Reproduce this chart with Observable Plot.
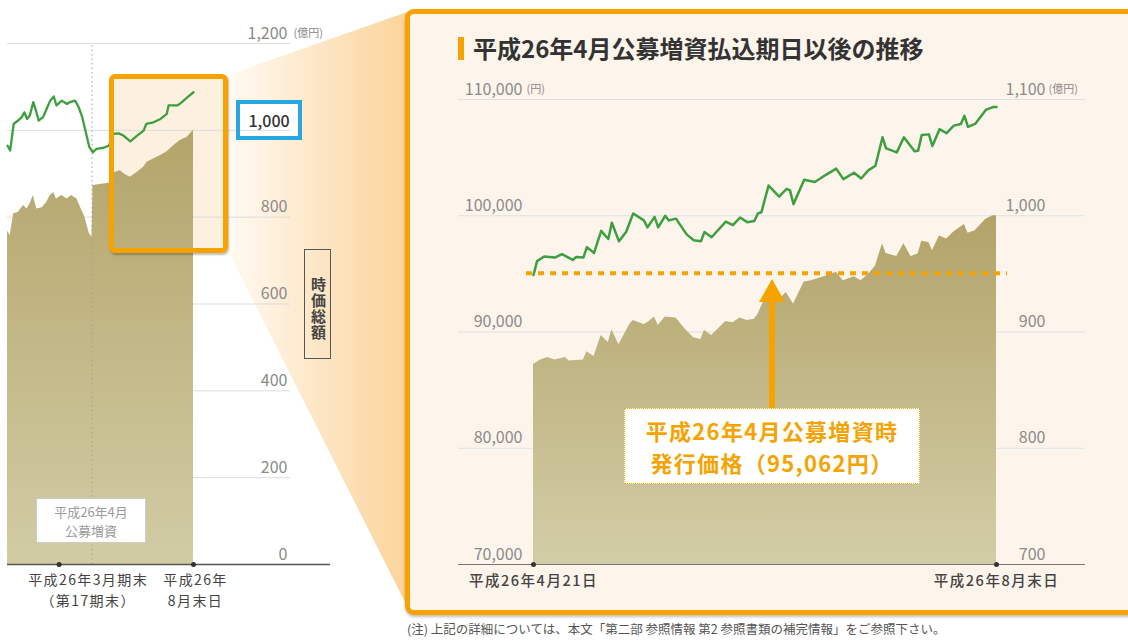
<!DOCTYPE html>
<html><head><meta charset="utf-8">
<script src="https://cdn.jsdelivr.net/npm/d3@7"></script>
<script src="https://cdn.jsdelivr.net/npm/@observablehq/plot@0.6"></script>
<style>
body{margin:0;width:1128px;height:641px;background:#fff;position:relative;overflow:hidden;font-family:"Noto Sans CJK JP","Noto Sans",sans-serif;}
.abs{position:absolute;}
</style></head><body>
<script>
// ---------- DATA ----------
// Right panel (from 平成26年4月21日 = 2014-04-21), day offsets
const rightPriceDays = [0,1,3,6,8,11,12,14,15,17,19,21,22,24,26,28,31,32,34,35,37,38,40,43,45,47,48,50,54,56,58,60,62,63,64,66,69,71,72,73,76,79,82,85,87,90,92,94,96,98,99,102,104,107,108,109,111,112,114,116,118,120,121,122,124,127,129,130];
const rightPrice = [94900,96100,96500,96400,96700,96200,96450,96400,97300,96800,98700,98000,99400,97800,98600,100200,99600,99000,99900,99000,100000,99600,99750,98400,97900,97800,98600,98150,99500,99200,99850,99450,99550,100200,100300,102600,101650,102300,102200,101000,103100,102900,103500,104050,103150,103700,103200,103900,104300,106750,105800,105450,106750,105550,105600,106950,107000,106000,107450,107100,107750,107900,108600,107650,107900,109100,109350,109350];
const rightCapDays = [0,2,4,6,9,10,14,15,17,19,21,22,24,27,28,31,32,34,35,37,40,43,45,47,48,50,54,56,58,60,62,63,64,66,69,71,73,76,78,82,85,87,90,92,94,96,98,99,102,104,106,108,109,111,112,114,116,118,121,122,124,127,129,130];
const rightCap = [872,876,878,876,878,875,876,883,879,897,891,902,889,906.5,910,906.5,908,913,905.5,913,912,901,895,893.5,901.5,897,909,908,912,910,911,915,922,935,928,934,924,943,944,948,951.5,944,947.5,944,949.5,956.5,976,967.5,965,976,965,967,978,977,970,982.5,980,986,992.5,985,987,997,1000,1000];
const issuePrice = 95062;
const rightPriceTicks = [70000,80000,90000,100000,110000];
const rightCapTicks = [700,800,900,1000,1100];
const rightXLabels = ["平成26年4月21日","平成26年8月末日"];

// Left panel (from 平成26年3月期末 = 2014-03-31), day offsets
const leftCapDays = [-58,-55,-51,-46,-40,-36,-32,-29,-25,-19,-14,-10,-6,-3,3,9,14,20,24,29,34,37,38,46,56,63,69,74,80,88,95,99,106,114,121,129,136,144,151];
const leftCap = [768,758,808,811,827,819,834,850,819,821.5,834,850,857,842,850,842,850,842,823,800,762,754,873,875,878,903.5,907,898,892,903.5,915,926.5,934,942,950,965,976.5,984,1000];
const leftPriceDays = [-58,-55,-51,-46,-42,-39,-36,-33,-29,-26,-23,-18,-14,-10,-6,-3,3,9,12,18,22,26,30,34,38,42,50,56,61,67,72,80,88,95,98,106,114,121,123,133,138,144,151];
const leftPrice = [91500,89900,98800,99900,101000,102600,100400,101500,106000,103200,99900,101000,103800,106500,107900,104900,106500,105400,106000,106500,104300,101000,96000,91000,89300,90400,90800,91500,95400,95600,94900,92900,94900,96500,98800,99300,100400,102100,104900,104900,106000,107600,109300];
const leftOfferingDay = 37;
const leftTicks = [0,200,400,600,800,1000,1200];
const leftHighlightTick = 1000;
const leftXTickDays = [0,151];
const leftXLabelLine1 = ["平成26年3月期末","平成26年"];
const leftXLabelLine2 = ["（第17期末）","8月末日"];

// ---------- helpers ----------
const FONT = '"Noto Sans CJK JP","Noto Sans",sans-serif';
const GREEN = "#3d9f3f", ORANGE = "#f6a300";
const DAY = 864e5;
const rBase = Date.UTC(2014,3,21), lBase = Date.UTC(2014,2,31);
const rDate = d => new Date(rBase + d*DAY);
const lDate = d => new Date(lBase + d*DAY);
const fmt = d3.format(",");
const CAP_TO_PRICE = 100; // right panel: 1億円 on right axis aligns with 100円 on left axis
// left panel: hidden price axis mapped onto 億円 axis
const leftPriceToCap = p => 988 + (p - 94870) * 0.00691;

const rightPriceRows = rightPriceDays.map((d,i)=>({date:rDate(d), price:rightPrice[i]}));
const rightCapRows = rightCapDays.map((d,i)=>({date:rDate(d), cap:rightCap[i]}));
const leftCapRows = leftCapDays.map((d,i)=>({date:lDate(d), cap:leftCap[i]}));
const leftPriceRows = leftPriceDays.map((d,i)=>({date:lDate(d), price:leftPrice[i]}));

function addGrad(svg, id, top, bottom){
  const defs = document.createElementNS("http://www.w3.org/2000/svg","defs");
  defs.innerHTML = `<linearGradient id="${id}" x1="0" y1="0" x2="0" y2="1"><stop offset="0" stop-color="${top}"/><stop offset="1" stop-color="${bottom}"/></linearGradient>`;
  svg.insertBefore(defs, svg.firstChild);
}
function spacing(svg, labels, ls){ svg.querySelectorAll("text").forEach(t=>{ if(labels.includes(t.textContent)) t.style.letterSpacing=ls; }); }
function place(el, left, top){ el.style.position="absolute"; el.style.left=left+"px"; el.style.top=top+"px"; document.body.appendChild(el); return el; }
function div(left, top, w, h, css, html){ const e=document.createElement("div"); e.style.cssText=`position:absolute;left:${left}px;top:${top}px;width:${w}px;height:${h}px;box-sizing:border-box;`+css; if(html!==undefined) e.innerHTML=html; document.body.appendChild(e); return e; }

// ---------- decorations behind ----------
const wedge = document.createElementNS("http://www.w3.org/2000/svg","svg");
wedge.setAttribute("width",1128); wedge.setAttribute("height",641);
wedge.innerHTML = `<defs><linearGradient id="wg" gradientUnits="userSpaceOnUse" x1="228" y1="0" x2="410" y2="0"><stop offset="0" stop-color="#fffaf3"/><stop offset="0.5" stop-color="#fde6c6"/><stop offset="1" stop-color="#fbd398"/></linearGradient></defs><polygon points="228,75 410,11 410,612 228,251" fill="url(#wg)"/>`;
place(wedge,0,0);
div(109,74,119,179,"background:#fdf0df;border-radius:6px;");
div(405,9,740,606,"background:#fdf5eb;border:5px solid "+ORANGE+";border-radius:9px;box-shadow:0 2px 3px rgba(0,0,0,0.25);");
div(236,100,66,40,"background:#fff;");

// ---------- left chart ----------
const leftPlot = Plot.plot({
  width:340, height:610, marginLeft:7, marginRight:50, marginTop:43, marginBottom:46,
  style:{background:"transparent", fontFamily:FONT, fontSize:"16px"},
  x:{type:"utc", domain:[lDate(leftCapDays[0]), lDate(leftCapDays[leftCapDays.length-1])], range:[7,193], axis:null},
  y:{domain:[0,1200], axis:null},
  marks:[
    Plot.ruleY(leftTicks.filter(t=>t>0), {stroke:"#dcdcdc", strokeWidth:1}),
    Plot.areaY(leftCapRows, {x:"date", y1:0, y2:"cap", fill:"url(#gradL)"}),
    Plot.ruleX([lDate(leftOfferingDay)], {y1:0, y2:1200, stroke:"#a0a0a0", strokeWidth:1, strokeDasharray:"1.5,3"}),
    Plot.lineY(leftPriceRows, {x:"date", y:d=>leftPriceToCap(d.price), stroke:GREEN, strokeWidth:2.3}),
    Plot.ruleY([0], {stroke:"#555", strokeWidth:1.5, insetRight:-40}),
    Plot.dot(leftXTickDays, {x:d=>lDate(d), y:0, r:2.5, fill:"#333", stroke:null}),
    Plot.text(leftTicks.filter(t=>t!==leftHighlightTick), {y:d=>d, frameAnchor:"right", dx:-3, dy:-10, textAnchor:"end", text:d=>fmt(d), fill:"#8a8a8a", fontSize:16}),
    Plot.text(["(億円)"], {y:1200, frameAnchor:"right", dx:3, dy:-10, textAnchor:"start", text:d=>d, fill:"#8a8a8a", fontSize:11}),
    Plot.text([leftXTickDays[0]], {x:d=>lDate(d), y:0, dx:29, dy:16.5, text:()=>leftXLabelLine1[0], fill:"#444", fontSize:14}),
    Plot.text([leftXTickDays[0]], {x:d=>lDate(d), y:0, dx:29, dy:37, text:()=>leftXLabelLine2[0], fill:"#444", fontSize:14}),
    Plot.text([leftXTickDays[1]], {x:d=>lDate(d), y:0, dx:2, dy:16.5, text:()=>leftXLabelLine1[1], fill:"#444", fontSize:14}),
    Plot.text([leftXTickDays[1]], {x:d=>lDate(d), y:0, dx:2, dy:37, text:()=>leftXLabelLine2[1], fill:"#444", fontSize:14})
  ]
});
addGrad(leftPlot, "gradL", "#b3a46a", "#d2cca5");
spacing(leftPlot, [...leftXLabelLine1, ...leftXLabelLine2], "1.4px");
place(leftPlot,0,0);

// ---------- right chart ----------
const rightPlot = Plot.plot({
  width:660, height:530, marginLeft:18, marginRight:15, marginTop:29, marginBottom:36,
  style:{background:"transparent", fontFamily:FONT, fontSize:"16px"},
  x:{type:"utc", domain:[rDate(0), rDate(130)], range:[93,556], axis:null},
  y:{domain:[70000,110000], axis:null},
  marks:[
    Plot.ruleY(rightPriceTicks.filter(t=>t>70000), {stroke:"#dde1e6", strokeWidth:1.2}),
    Plot.areaY(rightCapRows, {x:"date", y1:70000, y2:d=>d.cap*CAP_TO_PRICE, fill:"url(#gradR)"}),
    Plot.ruleY([issuePrice], {x1:rDate(0), x2:rDate(130), insetLeft:-7, insetRight:-11, stroke:ORANGE, strokeWidth:4, strokeDasharray:"6,6"}),
    Plot.lineY(rightPriceRows, {x:"date", y:"price", stroke:GREEN, strokeWidth:2.5}),
    Plot.ruleY([70000], {stroke:"#777", strokeWidth:1.2}),
    Plot.dot([0,130], {x:d=>rDate(d), y:70000, r:2.5, fill:"#333", stroke:null}),
    Plot.text(rightPriceTicks, {y:d=>d, frameAnchor:"left", dx:64, dy:-10, textAnchor:"end", text:d=>fmt(d), fill:"#8a8a8a", fontSize:16}),
    Plot.text(["(円)"], {y:110000, frameAnchor:"left", dx:68, dy:-10, textAnchor:"start", text:d=>d, fill:"#8a8a8a", fontSize:11}),
    Plot.text(rightCapTicks, {y:d=>d*CAP_TO_PRICE, frameAnchor:"right", dx:-40, dy:-10, textAnchor:"end", text:d=>fmt(d), fill:"#8a8a8a", fontSize:16}),
    Plot.text(["(億円)"], {y:110000, frameAnchor:"right", dx:-37, dy:-10, textAnchor:"start", text:d=>d, fill:"#8a8a8a", fontSize:11}),
    Plot.text([0,130], {x:d=>rDate(d), y:70000, dy:17, text:(d,i)=>rightXLabels[i], fill:"#444", fontSize:14.5, fontWeight:500})
  ]
});
addGrad(rightPlot, "gradR", "#b2a369", "#d3cda7");
spacing(rightPlot, rightXLabels, "1.5px");
place(rightPlot,440,70);

// ---------- decorations on top ----------
div(109,74,119,179,"border:5px solid "+ORANGE+";border-radius:6px;box-shadow:1px 2px 2px rgba(0,0,0,0.25);");
div(236,100,66,40,"border:4px solid #27a6df;text-align:center;line-height:32px;font-size:16px;color:#333;font-weight:500;", fmt(leftHighlightTick));
div(304,249,27,110,"border:1.5px solid #555;writing-mode:vertical-rl;text-align:center;line-height:24px;font-size:15px;font-weight:700;color:#444;padding-top:10px;letter-spacing:1px;", "時価総額");
div(36,498,110,45,"background:#fff;border:1px solid #ccc;text-align:center;font-size:13px;line-height:19px;color:#9a9a9a;padding-top:3px;", "平成26年4月<br>公募増資");
div(458,37,6,23,"background:"+ORANGE+";");
div(473,33,640,30,"font-size:24px;font-weight:700;color:#333;line-height:30px;white-space:nowrap;", "平成26年4月公募増資払込期日以後の推移");
const arrow = document.createElementNS("http://www.w3.org/2000/svg","svg");
arrow.setAttribute("width",40); arrow.setAttribute("height",140);
arrow.innerHTML = `<rect x="17" y="20" width="6" height="112" fill="${ORANGE}"/><polygon points="20,0 33,23 7,23" fill="${ORANGE}"/>`;
place(arrow,752,279);
div(624,408,296,76,"background:#fff;border:1.5px dotted "+ORANGE+";text-align:center;font-size:22px;font-weight:700;color:"+ORANGE+";line-height:32px;padding-top:5px;white-space:nowrap;letter-spacing:1.3px;", "平成26年4月公募増資時<br>発行価格（"+fmt(issuePrice)+"円）");
div(407,619,700,20,"font-size:12.5px;color:#555;white-space:nowrap;line-height:20px;", "(注) 上記の詳細については、本文「第二部 参照情報 第2 参照書類の補完情報」をご参照下さい。");
</script>
</body></html>
